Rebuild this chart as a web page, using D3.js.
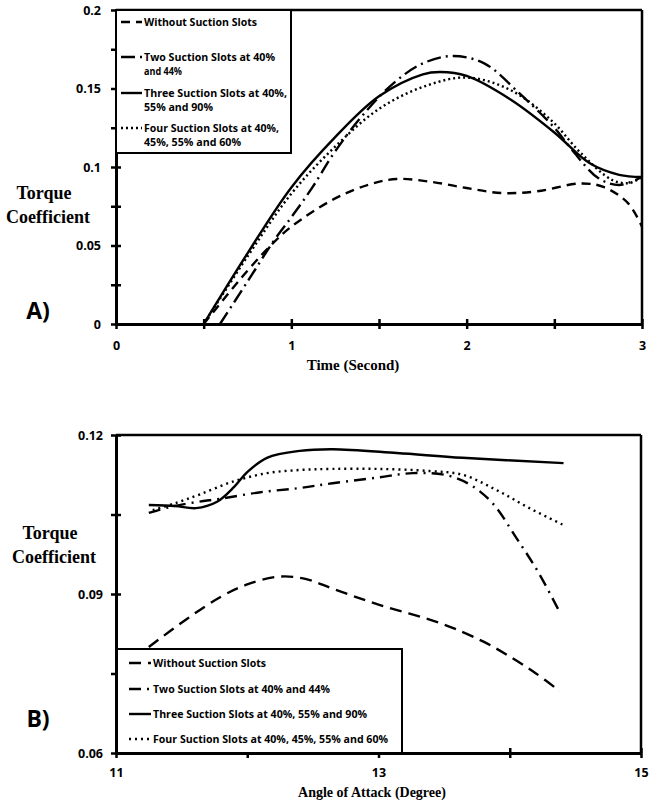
<!DOCTYPE html>
<html>
<head>
<meta charset="utf-8">
<script src="https://cdn.jsdelivr.net/npm/d3@7"></script>
<style>
  body { margin: 0; background: #fff; }
  svg text { fill: #000; }
</style>
</head>
<body>
<div id="chart"></div>
<script>
// ---- panel A: torque coefficient vs time ----
let aWithout = [[0.5, 0], [0.75, 0.034], [0.9, 0.052], [1.0, 0.062], [1.25, 0.080], [1.45, 0.089], [1.6, 0.0924],
    [1.8, 0.0905], [2.0, 0.0866], [2.2, 0.0834], [2.4, 0.0845], [2.65, 0.0895], [2.78, 0.0873], [2.92, 0.077], [3.0, 0.062]];
let aTwo = [[0.593, 0], [0.75, 0.027], [0.9, 0.053], [1.0, 0.068], [1.12, 0.087], [1.25, 0.110], [1.43, 0.136],
    [1.6, 0.155], [1.75, 0.166], [1.92, 0.1707], [2.1, 0.166], [2.3, 0.147], [2.5, 0.125], [2.6, 0.111],
    [2.75, 0.093], [2.87, 0.0885], [3.0, 0.0936]];
let aThree = [[0.5, 0], [0.75, 0.045], [1.0, 0.087], [1.25, 0.119], [1.5, 0.145], [1.75, 0.159], [1.85, 0.1605],
    [2.0, 0.158], [2.25, 0.143], [2.5, 0.122], [2.7, 0.1025], [2.87, 0.095], [3.0, 0.0936]];
let aFour = [[0.5, 0], [0.75, 0.043], [1.0, 0.083], [1.25, 0.113], [1.5, 0.137], [1.75, 0.151], [2.0, 0.157],
    [2.25, 0.149], [2.48, 0.130], [2.65, 0.109], [2.83, 0.0917], [2.93, 0.0898], [3.0, 0.0936]];

let aXTicks = [0, 0.5, 1, 1.5, 2, 2.5, 3];
let aXLabels = ["0", "", "1", "", "2", "", "3"];
let aYTicks = [0, 0.025, 0.05, 0.075, 0.1, 0.125, 0.15, 0.175, 0.2];
let aYLabels = ["0", "", "0.05", "", "0.1", "", "0.15", "", "0.2"];

// ---- panel B: torque coefficient vs angle of attack ----
let bWithout = [[11.25, 0.080], [11.54, 0.0853], [11.8, 0.0895], [12.0, 0.0918], [12.25, 0.0933], [12.45, 0.0928],
    [12.65, 0.091], [13.0, 0.088], [13.47, 0.0845], [13.8, 0.081], [14.02, 0.0779], [14.2, 0.0750], [14.38, 0.0717]];
let bTwo = [[11.25, 0.1053], [11.41, 0.1064], [11.6, 0.1073], [11.8, 0.1080], [12.1, 0.1092], [12.4, 0.1100],
    [12.65, 0.1109], [13.0, 0.1120], [13.26, 0.1128], [13.52, 0.1124], [13.7, 0.1106], [13.87, 0.1071],
    [14.05, 0.1006], [14.22, 0.094], [14.38, 0.0866]];
let bThree = [[11.25, 0.1068], [11.45, 0.1066], [11.61, 0.1062], [11.77, 0.1074], [11.9, 0.1102], [12.0, 0.1130],
    [12.15, 0.1157], [12.4, 0.1170], [12.65, 0.1173], [13.14, 0.1166], [13.64, 0.1157], [14.41, 0.1147]];
let bFour = [[11.28, 0.1058], [11.46, 0.1072], [11.64, 0.1088], [11.89, 0.1112], [12.15, 0.1128], [12.4, 0.1134],
    [12.65, 0.1136], [13.0, 0.1136], [13.39, 0.1132], [13.64, 0.1125], [13.9, 0.1096], [14.15, 0.1062], [14.41, 0.1030]];

let bXTicks = [11, 12, 13, 14, 15];
let bXLabels = ["11", "", "13", "", "15"];
let bYTicks = [0.06, 0.075, 0.09, 0.105, 0.12];
let bYLabels = ["0.06", "", "0.09", "", "0.12"];

let aLegend = [["Without Suction Slots"], ["Two Suction Slots at 40%", "and 44%"],
    ["Three Suction Slots at 40%,", "55% and 90%"], ["Four Suction Slots at 40%,", "45%, 55% and 60%"]];
let bLegend = ["Without Suction Slots", "Two Suction Slots at 40% and 44%",
    "Three Suction Slots at 40%, 55% and 90%", "Four Suction Slots at 40%, 45%, 55% and 60%"];

let width = 667, height = 803;
let sans = "'Open Sans', 'Noto Sans', sans-serif";
let serif = "'Liberation Serif', 'Times New Roman', serif";

let svg = d3.select("#chart").append("svg")
    .attr("width", width)
    .attr("height", height);

function draw_panel(cfg) {
    let x = d3.scaleLinear().domain(cfg.xDomain).range([116, cfg.right]);
    let y = d3.scaleLinear().domain(cfg.yDomain).range([cfg.bottom, cfg.top]);
    let g = svg.append("g");

    let line = d3.line()
        .x(d => x(d[0]))
        .y(d => y(d[1]))
        .curve(d3.curveCatmullRom.alpha(0.5));

    cfg.series.forEach(s => {
        g.append("path")
            .attr("d", line(s.data))
            .attr("fill", "none")
            .attr("stroke", "#000")
            .attr("stroke-width", 2.4)
            .attr("stroke-dasharray", s.dash)
            .attr("stroke-linecap", "butt");
    });

    // frame
    g.append("line").attr("x1", x.range()[0]).attr("x2", x.range()[1])
        .attr("y1", cfg.top).attr("y2", cfg.top).attr("stroke", "#000").attr("stroke-width", 2.5);
    g.append("line").attr("x1", cfg.right).attr("x2", cfg.right)
        .attr("y1", cfg.top).attr("y2", cfg.bottom).attr("stroke", "#000").attr("stroke-width", 2.5);

    let xAxis = g.append("g")
        .attr("transform", `translate(0,${cfg.bottom})`)
        .call(d3.axisBottom(x).tickValues(cfg.xTicks).tickSizeOuter(0)
            .tickPadding(cfg.xPad)
            .tickFormat((d, i) => cfg.xLabels[i]));
    let yAxis = g.append("g")
        .attr("transform", "translate(116,0)")
        .call(d3.axisLeft(y).tickValues(cfg.yTicks).tickSizeOuter(0)
            .tickPadding(cfg.yPad)
            .tickFormat((d, i) => cfg.yLabels[i]));

    [xAxis, yAxis].forEach(ax => {
        ax.select(".domain").attr("stroke", "#000").attr("stroke-width", 3);
        ax.selectAll(".tick line").attr("stroke", "#000").attr("stroke-width", 2.5);
        ax.selectAll(".tick text")
            .style("font-family", sans)
            .style("font-weight", "bold")
            .style("font-size", "12.5px");
    });
    xAxis.selectAll(".tick line").attr("y1", -5).attr("y2", 5);
    yAxis.selectAll(".tick line").attr("x1", -5).attr("x2", 5);

    // titles
    g.append("text")
        .attr("x", cfg.xTitle[0]).attr("y", cfg.xTitle[1])
        .attr("text-anchor", "middle")
        .style("font-family", serif).style("font-weight", "bold")
        .style("font-size", cfg.xTitleSize)
        .text(cfg.xTitleText);
    g.append("text")
        .attr("x", cfg.yTitle[0]).attr("y", cfg.yTitle[1])
        .attr("text-anchor", "middle")
        .style("font-family", serif).style("font-weight", "bold")
        .style("font-size", "18px")
        .text("Torque");
    g.append("text")
        .attr("x", cfg.yTitle[0] + 4).attr("y", cfg.yTitle[1] + 24)
        .attr("text-anchor", "middle")
        .style("font-family", serif).style("font-weight", "bold")
        .style("font-size", "18px")
        .text("Coefficient");
    g.append("text")
        .attr("x", 38).attr("y", cfg.tagY)
        .attr("text-anchor", "middle")
        .style("font-family", sans).style("font-weight", "bold")
        .style("font-size", "23px")
        .text(cfg.tag);

    // legend
    let lg = g.append("g");
    lg.append("rect")
        .attr("x", cfg.legendBox[0]).attr("y", cfg.legendBox[1])
        .attr("width", cfg.legendBox[2]).attr("height", cfg.legendBox[3])
        .attr("fill", "#fff").attr("stroke", "#000").attr("stroke-width", 2);
    cfg.series.forEach((s, i) => {
        let ly = cfg.legendRows[i];
        lg.append("line")
            .attr("x1", cfg.legendLine[0]).attr("x2", cfg.legendLine[1])
            .attr("y1", ly).attr("y2", ly)
            .attr("stroke", "#000").attr("stroke-width", 2.4)
            .attr("stroke-dasharray", s.dash);
        s.label.forEach((t, j) => {
            lg.append("text")
                .attr("x", cfg.legendLine[1] + 2)
                .attr("y", ly + j * 14 + 4)
                .attr("textLength", s.widths[j])
                .attr("lengthAdjust", "spacingAndGlyphs")
                .style("font-family", sans).style("font-weight", "bold")
                .style("font-size", "11px")
                .text(t);
        });
    });
}

draw_panel({
    xDomain: [0, 3], yDomain: [0, 0.2], right: 642, top: 10, bottom: 324,
    xTicks: aXTicks, xLabels: aXLabels, yTicks: aYTicks, yLabels: aYLabels,
    xPad: 11, yPad: 9,
    xTitle: [353, 370], xTitleSize: "15px", xTitleText: "Time (Second)",
    yTitle: [44, 199], tag: "A)", tagY: 319,
    legendBox: [116, 10, 175, 143], legendLine: [121, 142], legendRows: [22, 57, 93, 128],
    series: [
        {data: aWithout, dash: "9,6", label: aLegend[0], widths: [113]},
        {data: aTwo, dash: "14,5,2,5", label: aLegend[1], widths: [131, 38]},
        {data: aThree, dash: null, label: aLegend[2], widths: [143, 69]},
        {data: aFour, dash: "2,3", label: aLegend[3], widths: [135, 97]}
    ]
});

draw_panel({
    xDomain: [11, 15], yDomain: [0.06, 0.12], right: 641, top: 435, bottom: 753,
    xTicks: bXTicks, xLabels: bXLabels, yTicks: bYTicks, yLabels: bYLabels,
    xPad: 9, yPad: 7,
    xTitle: [372, 797], xTitleSize: "14px", xTitleText: "Angle of Attack (Degree)",
    yTitle: [50, 539], tag: "B)", tagY: 727,
    legendBox: [117, 649, 285, 104], legendLine: [129, 151], legendRows: [663, 689, 714, 739],
    series: [
        {data: bWithout, dash: "12,7", label: [bLegend[0]], widths: [113]},
        {data: bTwo, dash: "12,6,2,6", label: [bLegend[1]], widths: [177]},
        {data: bThree, dash: null, label: [bLegend[2]], widths: [214]},
        {data: bFour, dash: "2,4", label: [bLegend[3]], widths: [235]}
    ]
});
</script>
</body>
</html>
